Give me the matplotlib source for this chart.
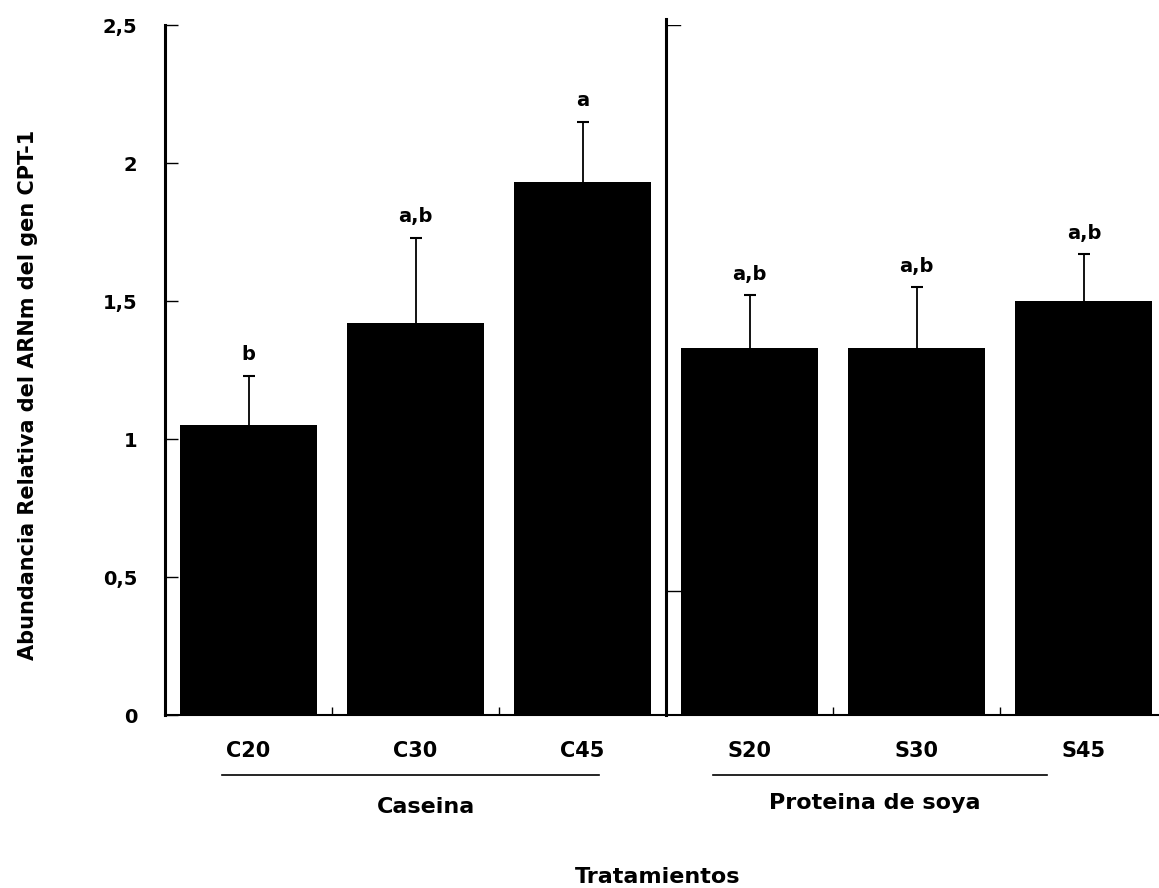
import matplotlib
matplotlib.use("Agg")
import matplotlib.pyplot as plt
import numpy as np

# Datos
tratamientos = ["C20", "C30", "C45", "S20", "S30", "S45"]
abundancia = [1.05, 1.42, 1.93, 1.33, 1.33, 1.50]
error_sup = [0.18, 0.31, 0.22, 0.19, 0.22, 0.17]
letras = ["b", "a,b", "a", "a,b", "a,b", "a,b"]
grupos = ["Caseina", "Proteina de soya"]
yticks = [0, 0.5, 1, 1.5, 2, 2.5]
ytick_labels = ["0", "0,5", "1", "1,5", "2", "2,5"]

plt.rcParams["font.family"] = ["DejaVu Sans"]
plt.rcParams["font.weight"] = "bold"

W, H = 1159, 888
fig = plt.figure(figsize=(W / 100, H / 100), dpi=100)
ax = fig.add_axes([165 / W, 1 - 715 / H, 994 / W, 690 / H])

x = np.arange(len(tratamientos))
tope = np.array(abundancia) + np.array(error_sup)
ax.bar(x, abundancia, width=0.82, color="black", zorder=2)
# solo la parte superior del error
ax.vlines(x, abundancia, tope, color="black", lw=1.3, zorder=3)
ax.plot(x, tope, ls="none", marker="_", ms=8, mew=1.5, color="black", zorder=3)

for xi, t_, t in zip(x, tope, letras):
    ax.annotate(t, (xi, t_), xytext=(0, 15), textcoords="offset points",
                ha="center", va="center", fontsize=14, fontweight="bold")

ax.set_xlim(-0.5, 5.45)
ax.set_ylim(0, 2.5)

# ejes
for s in ["top", "right"]:
    ax.spines[s].set_visible(False)
ax.spines["left"].set_linewidth(2.2)
ax.spines["bottom"].set_linewidth(1.5)

ax.set_yticks(yticks)
ax.set_yticklabels(ytick_labels, fontsize=14, fontweight="bold")
ax.tick_params(axis="y", direction="in", length=9, width=1, pad=20)

ax.set_xticks(x)
ax.set_xticklabels(tratamientos, fontsize=15, fontweight="bold")
ax.tick_params(axis="x", which="major", length=0, pad=19)
ax.set_xticks([0.5, 1.5, 3.5, 4.5], minor=True)
ax.tick_params(axis="x", which="minor", direction="in", length=6, width=1)

# separador entre grupos
ax.plot([2.5, 2.5], [0, 2.52], color="black", lw=2.2, clip_on=False, zorder=4)
for yv in [2.5, 0.45]:
    ax.plot([2.5, 2.58], [yv, yv], color="black", lw=1, zorder=4)

ax.set_ylabel("Abundancia Relativa del ARNm del gen CPT-1", fontsize=15,
              fontweight="bold")
ax.yaxis.set_label_coords(-0.128, 0.464)

# lineas y nombres de grupos
trans = ax.get_xaxis_transform()
ax.plot([-0.16, 2.10], [-0.087, -0.087], color="black", lw=1.2,
        transform=trans, clip_on=False)
ax.plot([2.78, 4.78], [-0.087, -0.087], color="black", lw=1.2,
        transform=trans, clip_on=False)
ax.text(1.06, -0.133, grupos[0], transform=trans, ha="center", va="center",
        fontsize=16, fontweight="bold")
ax.text(3.75, -0.128, grupos[1], transform=trans, ha="center", va="center",
        fontsize=16, fontweight="bold")

fig.text(658 / W, 1 - 877 / H, "Tratamientos", ha="center", va="center",
         fontsize=16, fontweight="bold")

fig.savefig("out.png", dpi=100, facecolor="white")
